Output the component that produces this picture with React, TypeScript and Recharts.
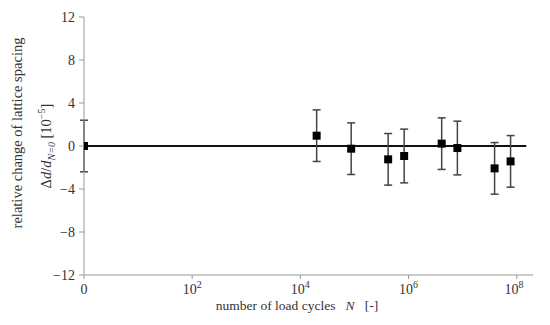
import { ScatterChart, Scatter, XAxis, YAxis, ErrorBar, ReferenceLine } from "recharts";

const cycles = [1, 2e4, 8.7e4, 4.2e5, 8.3e5, 4.1e6, 8e6, 3.9e7, 7.7e7];
const change = [0, 0.96, -0.25, -1.24, -0.93, 0.22, -0.19, -2.08, -1.43];
const spread = [2.4, 2.4, 2.4, 2.4, 2.5, 2.4, 2.5, 2.4, 2.4];
const xTicks = [1, 1e2, 1e4, 1e6, 1e8];
const yTicks = [-12, -8, -4, 0, 4, 8, 12];
const zeroLine = [1, 1.5e8];

const data = cycles.map((n, i) => ({ n, v: change[i], err: spread[i] }));

const FONT = "'Liberation Serif', serif";

function XTick(props: any) {
  const { x, y, payload } = props;
  const v = payload.value;
  if (v === 1) {
    return (
      <text x={x} y={y + 13} textAnchor="middle" fontFamily={FONT} fontSize={14} fill="#333">0</text>
    );
  }
  const exp = Math.round(Math.log10(v));
  return (
    <text x={x} y={y + 13} textAnchor="middle" fontFamily={FONT} fontSize={14} fill="#333">
      10<tspan dy={-6} fontSize={10}>{exp}</tspan>
    </text>
  );
}

function YTick(props: any) {
  const { x, y, payload } = props;
  const v = payload.value;
  const s = v < 0 ? "\u2212" + Math.abs(v) : String(v);
  return (
    <text x={x - 2} y={y + 5} textAnchor="end" fontFamily={FONT} fontSize={14} fill="#333">{s}</text>
  );
}

function YLabel() {
  const cy = 146;
  return (
    <g fontFamily={FONT} fill="#333">
      <text x={22} y={cy - 13} transform={`rotate(-90 22 ${cy - 13})`} textAnchor="middle" fontSize={14.5}>
        relative change of lattice spacing
      </text>
      <text x={51} y={cy} transform={`rotate(-90 51 ${cy})`} textAnchor="middle" fontSize={14.5}>
        Δ<tspan fontStyle="italic">d</tspan>/<tspan fontStyle="italic">d</tspan>
        <tspan dy={4} fontSize={10} fontStyle="italic">N=0</tspan>
        <tspan dy={-4}>{" [10"}</tspan>
        <tspan dy={-6} fontSize={10}>−5</tspan>
        <tspan dy={6}>]</tspan>
      </text>
    </g>
  );
}

function XLabel() {
  return (
    <text x={297} y={310} textAnchor="middle" fontFamily={FONT} fontSize={13.5} fill="#333" xmlSpace="preserve">
      {"number of load cycles   "}<tspan fontStyle="italic">N</tspan>{"   [-]"}
    </text>
  );
}

export default function App() {
  return (
    <div style={{ position: "absolute", left: 0, top: 0, background: "#fff" }}>
      <ScatterChart width={550} height={325} margin={{ top: 17, right: 17, bottom: 0, left: 0 }}>
        <XAxis
          type="number"
          dataKey="n"
          scale="log"
          domain={[1, 2e8]}
          ticks={xTicks}
          tick={<XTick />}
          tickSize={4}
          height={50}
          stroke="#999"
          allowDataOverflow
          label={{ content: () => <XLabel /> }}
        />
        <YAxis
          type="number"
          dataKey="v"
          domain={[-12, 12]}
          ticks={yTicks}
          width={84}
          tickSize={5}
          stroke="#999"
          tick={<YTick />}
          label={{ content: () => <YLabel /> }}
        />
        <ReferenceLine
          segment={[{ x: zeroLine[0], y: 0 }, { x: zeroLine[1], y: 0 }]}
          stroke="#111"
          strokeWidth={2}
        />
        <Scatter data={data} fill="#000" shape="square" isAnimationActive={false}>
          <ErrorBar dataKey="err" direction="y" width={4} stroke="#444" strokeWidth={1.5} />
        </Scatter>
      </ScatterChart>
    </div>
  );
}
